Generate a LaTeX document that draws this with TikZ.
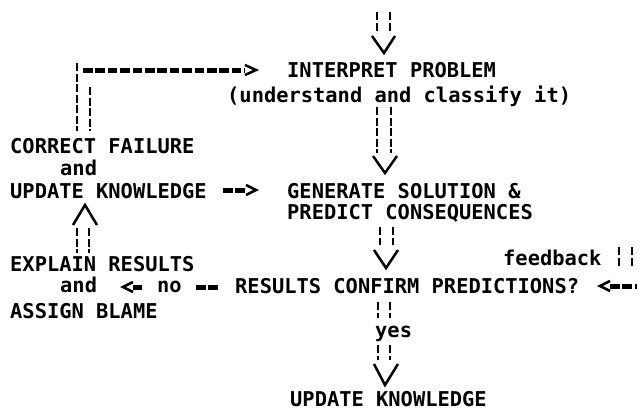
\documentclass[tikz,border=0pt]{standalone}
\usepackage{fontspec}
\setmonofont{DejaVu Sans Mono}
\usetikzlibrary{calc}
\begin{document}
\begin{tikzpicture}[x=1pt,y=-1pt,
  txt/.style={anchor=base west, inner sep=0pt, font=\ttfamily\bfseries\fontsize{20.4}{24}\selectfont},
  vbar/.style={line width=2.2pt, dash pattern=on 8pt off 2.5pt},
  hbar/.style={line width=5pt, dash pattern=on 9.6pt off 2.8pt},
  chev/.style={line width=2.5pt}]
\useasboundingbox[fill=white] (0,0) rectangle (640,410);

% text nodes
\node[txt] (interp1) at (287,77) {INTERPRET PROBLEM};
\node[txt] (interp2) at (227,102) {(understand and classify it)};
\node[txt] (cf1) at (10,153) {CORRECT FAILURE};
\node[txt] (cf2) at (60,175) {and};
\node[txt] (cf3) at (10,198) {UPDATE KNOWLEDGE};
\node[txt] (gen1) at (287,198) {GENERATE SOLUTION \&};
\node[txt] (gen2) at (287,219) {PREDICT CONSEQUENCES};
\node[txt] (ex1) at (10,271) {EXPLAIN RESULTS};
\node[txt] (ex2) at (60,292) {and};
\node[txt] (ex3) at (10,318) {ASSIGN BLAME};
\node[txt] (res) at (235,293) {RESULTS CONFIRM PREDICTIONS?};
\node[txt] (no) at (157,292) {no};
\node[txt] (fb) at (503,265) {feedback};
\node[txt] (yes) at (375,337) {yes};
\node[txt] (upd) at (290,406) {UPDATE KNOWLEDGE};

% named coordinates for connector ends
\coordinate (entry) at (384,12);
\coordinate (aA) at (384,53);
\coordinate (bB) at (385,107);
\coordinate (aB) at (385,173);
\coordinate (bC) at (386,227);
\coordinate (aC) at (386,268);
\coordinate (bD) at (385,302);
\coordinate (aD) at (385,385);
\coordinate (fbin) at (625,247);

% entry arrow -> interpret
\draw[vbar] ($(entry)+(-7,0)$) -- ($(entry)+(-7,21)$);
\draw[vbar] ($(entry)+(6,0)$) -- ($(entry)+(6,21)$);
\draw[chev] ($(aA)+(-12,-17)$) -- (aA) -- ($(aA)+(11,-17)$);

% interpret -> generate
\draw[vbar] ($(bB)+(-8,0)$) -- ($(bB)+(-8,46)$);
\draw[vbar] ($(bB)+(6,0)$) -- ($(bB)+(6,46)$);
\draw[chev] ($(aB)+(-12,-17)$) -- (aB) -- ($(aB)+(12,-17)$);

% generate -> results
\draw[vbar] ($(bC)+(-6,0)$) -- ($(bC)+(-6,18)$);
\draw[vbar] ($(bC)+(7,0)$) -- ($(bC)+(7,18)$);
\draw[chev] ($(aC)+(-12,-18)$) -- (aC) -- ($(aC)+(12,-18)$);

% results -> yes -> update knowledge
\draw[vbar] ($(bD)+(-7,0)$) -- ($(bD)+(-7,16)$);
\draw[vbar] ($(bD)+(5,0)$) -- ($(bD)+(5,16)$);
\draw[vbar] ($(bD)+(-7,43)$) -- ($(bD)+(-7,58)$);
\draw[vbar] ($(bD)+(5,43)$) -- ($(bD)+(5,58)$);
\draw[chev] ($(aD)+(-11,-21)$) -- (aD) -- ($(aD)+(13,-21)$);

% results -> explain (no)
\draw[chev] (133,282) -- (123,287) -- (133,292);
\draw[hbar] (133,287) -- (142,287);
\draw[hbar] (196,287) -- (219,287);

% feedback -> results
\draw[vbar] ($(fbin)+(-6,0)$) -- ($(fbin)+(-6,19)$);
\draw[vbar] ($(fbin)+(7,0)$) -- ($(fbin)+(7,19)$);
\draw[chev] (610,281) -- (600,286) -- (610,291);
\draw[hbar] (610,286) -- (637,286);

% explain -> correct (up arrow)
\draw[vbar] (77,228) -- (77,253);
\draw[vbar] (89,228) -- (89,253);
\draw[chev] (73,225) -- (85,205) -- (97,225);

% update knowledge -> generate
\draw[hbar] (223,190) -- (246,190);
\draw[chev] (246,185) -- (256,190) -- (246,195);

% correct failure -> interpret
\draw[vbar] (77,63) -- (77,131);
\draw[vbar] (90,87) -- (90,131);
\draw[hbar] (83,70) -- (245,70);
\draw[chev] (245,65) -- (256,70) -- (245,75);
\end{tikzpicture}
\end{document}
